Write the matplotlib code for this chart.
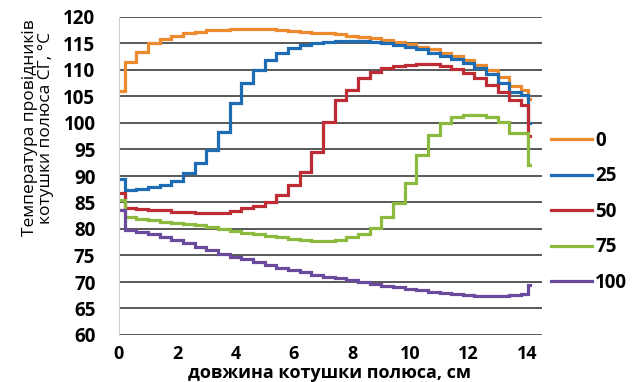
import matplotlib
matplotlib.use("Agg")
import matplotlib.pyplot as plt

plt.rcParams['font.family'] = ['Open Sans', 'DejaVu Sans']

# position along the pole coil, cm
x_cm = [0.0, 0.4, 0.8, 1.2, 1.6, 2.0, 2.4, 2.8, 3.2, 3.6, 4.0, 4.4, 4.8, 5.2,
        5.6, 6.0, 6.4, 6.8, 7.2, 7.6, 8.0, 8.4, 8.8, 9.2, 9.6, 10.0, 10.4,
        10.8, 11.2, 11.6, 12.0, 12.4, 12.8, 13.2, 13.6, 14.0, 14.1]

t_0 = [106.0, 111.5, 113.4, 115.0, 115.8, 116.4, 116.9, 117.2, 117.5, 117.6,
       117.7, 117.8, 117.8, 117.7, 117.6, 117.4, 117.2, 117.0, 116.9, 116.7,
       116.5, 116.3, 116.0, 115.7, 115.3, 114.9, 114.4, 113.9, 113.3, 112.6,
       111.9, 111.0, 110.0, 108.7, 107.0, 106.3, 104.5]

t_25 = [89.5, 87.3, 87.5, 87.9, 88.3, 89.0, 90.5, 92.4, 94.9, 98.3, 103.8,
        107.5, 110.0, 111.9, 113.2, 114.1, 114.7, 115.1, 115.3, 115.4, 115.4,
        115.4, 115.3, 115.1, 114.8, 114.4, 113.9, 113.3, 112.7, 112.1, 111.4,
        110.4, 109.2, 107.6, 105.8, 105.3, 100.0]

t_50 = [86.7, 84.0, 83.8, 83.6, 83.5, 83.3, 83.2, 83.1, 83.1, 83.1, 83.4,
        83.9, 84.4, 85.1, 86.4, 88.3, 90.8, 94.6, 100.2, 104.3, 106.2, 108.5,
        109.6, 110.4, 110.8, 111.0, 111.1, 111.1, 110.8, 110.2, 109.4, 108.4,
        107.2, 105.8, 104.3, 103.4, 97.5]

t_75 = [85.5, 82.2, 81.9, 81.7, 81.4, 81.2, 81.0, 80.7, 80.4, 80.0, 79.6,
        79.3, 79.0, 78.7, 78.4, 78.1, 77.9, 77.8, 77.7, 77.9, 78.4, 79.0,
        80.1, 82.2, 84.9, 88.7, 94.0, 97.7, 100.0, 101.1, 101.5, 101.6, 101.2,
        100.2, 98.1, 98.1, 92.1]

t_100 = [83.5, 79.8, 79.4, 79.0, 78.5, 78.0, 77.3, 76.6, 76.0, 75.3, 74.8,
         74.3, 73.8, 73.2, 72.7, 72.3, 71.9, 71.4, 71.0, 70.7, 70.4, 70.0,
         69.6, 69.3, 69.0, 68.7, 68.4, 68.1, 67.9, 67.7, 67.5, 67.4, 67.4,
         67.4, 67.6, 67.7, 69.4]

series_labels = ['0', '25', '50', '75', '100']
series_values = [t_0, t_25, t_50, t_75, t_100]
colors = ['#EE8A2E', '#1E6DB4', '#BE2D36', '#8BBA3F', '#6A4A9C']

y_ticks = [60, 65, 70, 75, 80, 85, 90, 95, 100, 105, 110, 115, 120]
x_ticks = [0, 2, 4, 6, 8, 10, 12, 14]

fig = plt.figure(figsize=(6.42, 3.82), dpi=100)
ax = fig.add_axes([119 / 642, 47 / 382, 422.5 / 642, 318 / 382])

for lab, vals, col in zip(series_labels, series_values, colors):
    ax.plot(x_cm, vals, drawstyle='steps-mid', color=col, lw=2.3,
            label=lab, solid_joinstyle='miter')

ax.set_xlim(0, 14.5)
ax.set_ylim(60, 120)
ax.set_yticks(y_ticks)
ax.set_xticks(x_ticks)
ax.yaxis.grid(True, color='#2b2b2b', lw=1.1)
ax.set_axisbelow(True)
for s in ['top', 'right', 'bottom']:
    ax.spines[s].set_visible(False)
ax.spines['left'].set_color('#d0d0d0')
ax.tick_params(axis='both', length=0, labelsize=13.5)
ax.tick_params(axis='y', pad=17)
ax.tick_params(axis='x', pad=7, labelsize=13)
for t in ax.get_xticklabels() + ax.get_yticklabels():
    t.set_fontweight('bold')

fig.text(38 / 642, 1 - 128 / 382,
         'Температура провідників\nкотушки полюса СГ, °С',
         rotation=90, ha='center', va='center', multialignment='center',
         fontsize=12.5, linespacing=1.05)
fig.text(329 / 642, 1 - 373 / 382, 'довжина котушки полюса, см',
         ha='center', va='center', fontsize=13, fontweight='bold')

leg = ax.legend(loc='upper left', bbox_to_anchor=(551 / 642, 1 - 131 / 382),
                bbox_transform=fig.transFigure, frameon=False,
                prop={'weight': 'bold', 'size': 13.5}, handlelength=2.2,
                handletextpad=0.15, labelspacing=0.82, borderpad=0,
                borderaxespad=0)

fig.savefig('out.png', dpi=100)
